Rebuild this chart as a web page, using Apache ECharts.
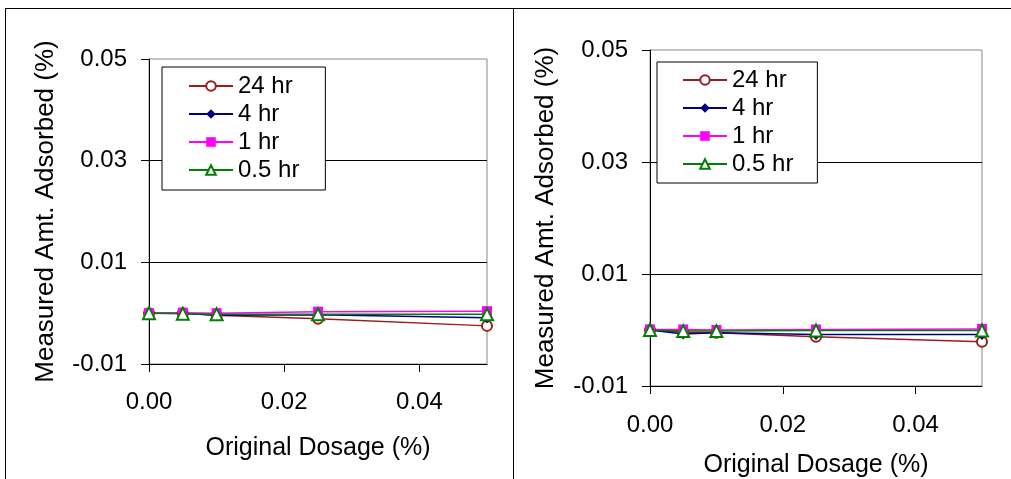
<!DOCTYPE html>
<html>
<head>
<meta charset="utf-8">
<script src="https://cdn.jsdelivr.net/npm/echarts@6/dist/echarts.min.js"></script>
<style>
  html, body { margin: 0; padding: 0; background: #fff; }
  #chart { width: 1011px; height: 479px; }
</style>
</head>
<body>
<div id="chart"></div>
<script>
// Original dosage (%) sampled for both panels
const dosage = [0, 0.005, 0.01, 0.025, 0.05];

// Left panel: measured amount adsorbed (%)
const left24hr = [0, 0, -0.0004, -0.0011, -0.0025];
const left4hr = [0, 0, -0.0004, -0.0003, -0.0009];
const left1hr = [0, 0.0001, 0, 0.0003, 0.0004];
const left05hr = [0, -0.0001, -0.0002, -0.0002, -0.0002];

// Right panel: measured amount adsorbed (%)
const right24hr = [0, -0.0004, -0.0005, -0.0012, -0.0021];
const right4hr = [0, -0.0007, -0.0005, -0.0008, -0.0008];
const right1hr = [0.0001, 0.0001, 0, 0.0001, 0.0002];
const right05hr = [0, -0.0002, -0.0002, -0.0001, -0.0001];

const seriesNames = ['24 hr', '4 hr', '1 hr', '0.5 hr'];
const xTicks = [0, 0.02, 0.04];

const FONT = 'Liberation Sans, Arial, sans-serif';
const styles = [
  { color: '#9b1c1c', symbol: 'emptyCircle', size: 10 },
  { color: '#000080', symbol: 'diamond', size: 11 },
  { color: '#ff00ff', symbol: 'rect', size: 10 },
  { color: '#008000', symbol: 'emptyTriangle', size: 12 }
];

function pairs(ys) { return dosage.map((x, i) => [x, ys[i]]); }

function makeSeries(panel, sets) {
  return sets.map((ys, k) => ({
    name: seriesNames[k],
    type: 'line',
    xAxisIndex: panel,
    yAxisIndex: panel,
    data: pairs(ys),
    symbol: styles[k].symbol,
    symbolSize: styles[k].size,
    color: styles[k].color,
    lineStyle: { color: styles[k].color, width: 1.5 },
    itemStyle: { color: styles[k].color, borderWidth: 1.5 },
    animation: false
  }));
}

function xAxis(grid, gap, labelMargin) {
  return {
    type: 'value', gridIndex: grid, min: 0, max: 0.05, interval: 0.02,
    name: 'Original Dosage (%)', nameLocation: 'middle', nameGap: gap,
    nameTextStyle: { fontFamily: FONT, fontSize: 25, color: '#000' },
    axisLine: { show: true, onZero: false, lineStyle: { color: '#000', width: 1 } },
    axisTick: { show: true, length: 8, customValues: xTicks, lineStyle: { color: '#000' } },
    axisLabel: { customValues: xTicks, margin: labelMargin, fontFamily: FONT, fontSize: 24, color: '#000',
      formatter: v => v.toFixed(2) },
    splitLine: { show: false }
  };
}

function yAxis(grid, gap) {
  return {
    type: 'value', gridIndex: grid, min: -0.01, max: 0.05, interval: 0.02,
    name: 'Measured Amt. Adsorbed (%)', nameLocation: 'middle', nameGap: gap, nameRotate: 90,
    nameTextStyle: { fontFamily: FONT, fontSize: 26, color: '#000' },
    axisLine: { show: true, onZero: false, lineStyle: { color: '#000', width: 1 } },
    axisTick: { show: true, length: 8, lineStyle: { color: '#000' } },
    axisLabel: { margin: 22, fontFamily: FONT, fontSize: 24, color: '#000',
      formatter: v => v.toFixed(2) },
    splitLine: { show: true, showMinLine: false, showMaxLine: false, lineStyle: { color: '#000', width: 1 } }
  };
}

function legend(left, top, pad) {
  return {
    data: seriesNames, orient: 'vertical', left: left, top: top,
    padding: pad, itemGap: 0, itemWidth: 44, itemHeight: 12,
    borderColor: '#000', borderWidth: 1, backgroundColor: '#fff',
    textStyle: { fontFamily: FONT, fontSize: 24, color: '#000', lineHeight: 28 },
    selectedMode: false
  };
}

const chart = echarts.init(document.getElementById('chart'), null, { renderer: 'canvas' });
chart.setOption({
  backgroundColor: '#fff',
  animation: false,
  grid: [
    { left: 149, right: 524, top: 59, bottom: 115, outerBoundsMode: 'none', containLabel: false,
      show: true, borderColor: '#888', borderWidth: 1 },
    { left: 650, right: 29, top: 50, bottom: 93, outerBoundsMode: 'none', containLabel: false,
      show: true, borderColor: '#888', borderWidth: 1 }
  ],
  xAxis: [xAxis(0, 72, 26), xAxis(1, 67, 27)],
  yAxis: [yAxis(0, 90), yAxis(1, 91)],
  legend: [legend(162, 67, [5, 26, 6, 26]), legend(657, 62, [4, 24, 5, 25])],
  series: [
    ...makeSeries(0, [left24hr, left4hr, left1hr, left05hr]),
    ...makeSeries(1, [right24hr, right4hr, right1hr, right05hr])
  ],
  // table cell rules around the two panels
  graphic: [
    { type: 'line', shape: { x1: 5, y1: 8.5, x2: 1011, y2: 8.5 }, style: { stroke: '#000', lineWidth: 1 } },
    { type: 'line', shape: { x1: 5.5, y1: 8, x2: 5.5, y2: 479 }, style: { stroke: '#000', lineWidth: 1 } },
    { type: 'line', shape: { x1: 513.5, y1: 8, x2: 513.5, y2: 479 }, style: { stroke: '#000', lineWidth: 1 } }
  ]
});
</script>
</body>
</html>
